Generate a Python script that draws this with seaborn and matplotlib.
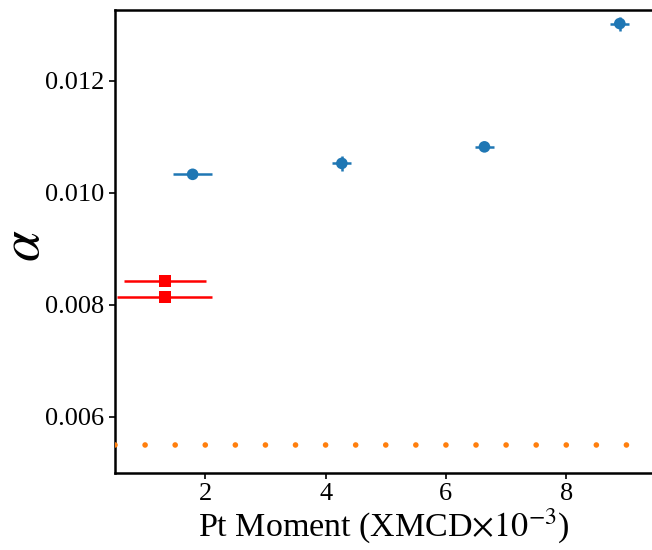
import numpy as np
import pandas as pd
import seaborn as sns
import matplotlib
matplotlib.use("Agg")
import matplotlib.pyplot as plt

# measured samples (XMCD moment vs damping)
blue_x = [1.79, 4.27, 6.64, 8.89]
blue_y = [0.01033, 0.010525, 0.01082, 0.01302]
blue_xerr = [0.33, 0.16, 0.16, 0.16]
blue_yerr = [0.00003, 0.00014, 0.00003, 0.000125]

red_x = [1.33, 1.33]
red_y = [0.00843, 0.00814]
red_xerr = [0.68, 0.79]

# reference level
ref_x = [0.5, 1.0, 1.5, 2.0, 2.5, 3.0, 3.5, 4.0, 4.5, 5.0, 5.5, 6.0, 6.5, 7.0, 7.5, 8.0, 8.5, 9.0]
ref_y = [0.0055] * len(ref_x)

sns.set_style("ticks")
plt.rcParams['font.family'] = ['Liberation Serif', 'DejaVu Serif']
plt.rcParams['mathtext.fontset'] = 'stix'
for k in ['text.color', 'axes.labelcolor', 'xtick.color', 'ytick.color']:
    plt.rcParams[k] = 'black'

fig = plt.figure(figsize=(6.52, 5.5), dpi=100)
ax = fig.add_axes([0.1764, 0.14, 0.8236, 0.8418])

blue = pd.DataFrame({"x": blue_x, "y": blue_y})
red = pd.DataFrame({"x": red_x, "y": red_y})
ref = pd.DataFrame({"x": ref_x, "y": ref_y})

ax.errorbar(blue_x, blue_y, xerr=blue_xerr, yerr=blue_yerr, fmt="none",
            ecolor="#1f77b4", elinewidth=1.8)
sns.scatterplot(data=blue, x="x", y="y", ax=ax, color="#1f77b4", s=70,
                edgecolor="none", zorder=3)

ax.errorbar(red_x, red_y, xerr=red_xerr, fmt="none", ecolor="red", elinewidth=1.8)
sns.scatterplot(data=red, x="x", y="y", ax=ax, color="red", marker="s", s=80,
                edgecolor="none", zorder=3)

sns.scatterplot(data=ref, x="x", y="y", ax=ax, color="#ff7f0e", s=16,
                edgecolor="none", zorder=3)

ax.set_xlim(0.5, 9.425)
ax.set_ylim(0.005, 0.013262)
ax.set_xticks([2, 4, 6, 8])
ax.set_yticks([0.006, 0.008, 0.010, 0.012])
ax.set_yticklabels(["0.006", "0.008", "0.010", "0.012"])
ax.tick_params(labelsize=19, length=4, width=1.2, color="black", labelcolor="black")
ax.spines["right"].set_visible(False)
for s in ["left", "top", "bottom"]:
    ax.spines[s].set_linewidth(1.8)
    ax.spines[s].set_color("black")

ax.set_xlabel(r"Pt Moment (XMCD$\times10^{-3}$)", fontsize=24.5, labelpad=1)
ax.set_ylabel(r"$\alpha$", fontsize=40)
ax.yaxis.set_label_coords(-0.12, 0.49)

fig.savefig("out.png", dpi=100)
